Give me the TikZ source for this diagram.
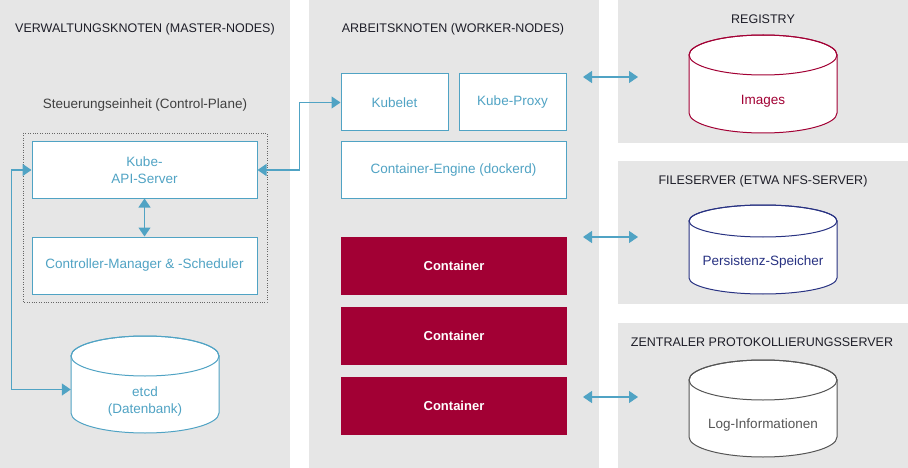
\documentclass[tikz,border=0pt]{standalone}
\usepackage{fontspec}
\setmainfont{Liberation Sans}
\usetikzlibrary{arrows.meta}

\definecolor{panelgrau}{RGB}{230,230,230}
\definecolor{blau}{RGB}{80,163,196}
\definecolor{weinrot}{RGB}{162,0,52}
\definecolor{marine}{RGB}{40,50,130}
\definecolor{dunkelgrau}{RGB}{85,85,85}
\definecolor{titelfarbe}{RGB}{30,30,40}

% name, center, colour, half height, y radius, text
\newcommand{\zylinder}[6]{%
  \begin{scope}[shift={#2}]
    \filldraw[fill=white, draw=#3, line width=1pt] (-74,-#4+#5) -- (-74,#4-#5)
      arc[start angle=180, end angle=360, x radius=74pt, y radius=#5pt] -- (74,-#4+#5)
      arc[start angle=0, end angle=180, x radius=74pt, y radius=#5pt] -- cycle;
    \draw[draw=#3, line width=1pt] (0,-#4+#5) ellipse[x radius=74pt, y radius=#5pt];
  \end{scope}
  \node[minimum width=148, minimum height=2*#4, inner sep=0pt] (#1) at #2 {};
  \node[text=#3, align=center] at ([yshift=-#5pt+3pt]#1.center) {#6};
}

\begin{document}
\begin{tikzpicture}[x=1pt, y=-1pt, every node/.style={font=\fontsize{13.5}{16.5}\selectfont}]
                \tikzset{kasten/.style = {draw=blau, fill=white, line width=1pt, text=blau, minimum width=225, minimum height=56, inner sep=0pt, align=center}}
                \tikzset{behaelter/.style = {fill=weinrot, text=white, font=\fontsize{13}{16}\selectfont\bfseries, minimum width=226, minimum height=58}}
                \tikzset{titel/.style = {text=titelfarbe, font=\fontsize{12.5}{15}\selectfont}}
                \tikzset{pfeil/.style = {{Triangle[length=9pt,width=12pt]}-{Triangle[length=9pt,width=12pt]}, draw=blau, line width=1.2pt}}
                \useasboundingbox (0,0) rectangle (908,468);

                % panels
                \fill[panelgrau] (0,0) rectangle (290,468);
                \fill[panelgrau] (309,0) rectangle (599,468);
                \fill[panelgrau] (618,0) rectangle (908,143);
                \fill[panelgrau] (618,161) rectangle (908,304);
                \fill[panelgrau] (618,323) rectangle (908,468);

                % titles
                \node[titel] (master) at (145,29) {VERWALTUNGSKNOTEN (MASTER-NODES)};
                \node[titel] (worker) at (453,29) {ARBEITSKNOTEN (WORKER-NODES)};
                \node[titel] (registry) at (763,19) {REGISTRY};
                \node[titel] (fileserver) at (763,181) {FILESERVER (ETWA NFS-SERVER)};
                \node[titel] (logserver) at (762,342) {ZENTRALER PROTOKOLLIERUNGSSERVER};
                \node[text=black!75] (plane) at (145,105) {Steuerungseinheit (Control-Plane)};

                % control plane
                \draw[dotted, draw=black!60] (23,133) rectangle (267,302);
                \node[kasten] (api) at (144.5,170) {Kube-\\API-Server};
                \node[kasten, minimum height=57] (ctrl) at (144.5,265.5) {Controller-Manager \& -Scheduler};
                \zylinder{etcd}{(145,384.5)}{blau}{48.5}{20}{etcd\\(Datenbank)}

                % worker
                \node[kasten, minimum width=107, minimum height=57] (kubelet) at (394.5,102.5) {Kubelet};
                \node[kasten, minimum width=107, minimum height=57] (proxy) at (512.5,102.5) {Kube-Proxy};
                \node[kasten] (engine) at (453.5,170) {Container-Engine (dockerd)};
                \node[behaelter] (c1) at (454,266) {Container};
                \node[behaelter] (c2) at (454,336) {Container};
                \node[behaelter] (c3) at (454,406) {Container};

                % storage
                \zylinder{images}{(763,84)}{weinrot}{49}{20}{Images}
                \zylinder{persistenz}{(763,249.5)}{marine}{44.5}{16}{Persistenz-Speicher}
                \zylinder{log}{(763,408.5)}{dunkelgrau}{48.5}{20}{Log-Informationen}

                \coordinate (reg-a) at (583,77);
                \coordinate (reg-b) at (638,77);
                \coordinate (nfs-a) at (583,237);
                \coordinate (nfs-b) at (638,237);
                \coordinate (log-a) at (583,397);
                \coordinate (log-b) at (638,397);

                %edges
                \draw[pfeil] (api) to (ctrl);
                \draw[pfeil] (api.east) -- ++(42,0) |- (kubelet.west);
                \draw[pfeil] (api.west) -- ++(-20,0) |- ([yshift=-5pt]etcd.west);
                \draw[pfeil] (reg-a) to (reg-b);
                \draw[pfeil] (nfs-a) to (nfs-b);
                \draw[pfeil] (log-a) to (log-b);
            \end{tikzpicture}
\end{document}
